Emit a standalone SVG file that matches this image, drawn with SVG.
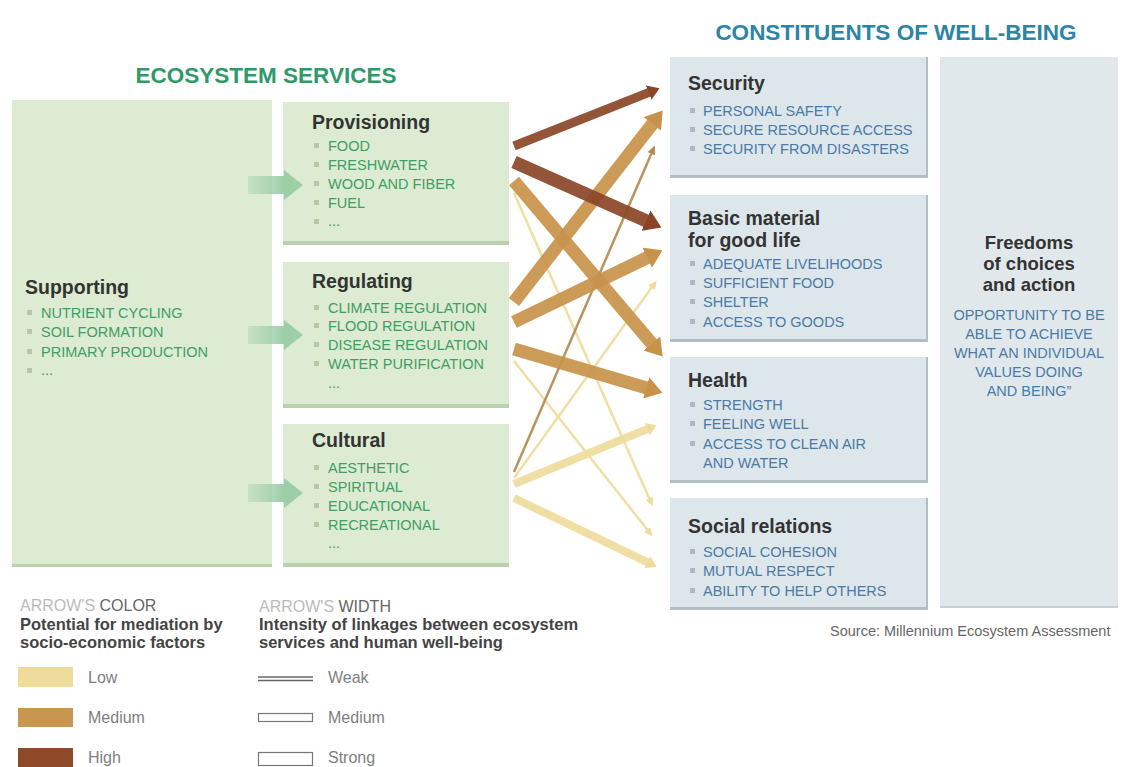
<svg xmlns="http://www.w3.org/2000/svg" width="1123" height="767" viewBox="0 0 1123 767">
<style>
text{font-family:"Liberation Sans",Arial,sans-serif}
.title{font-size:22.5px;font-weight:bold}
.h{font-size:19.5px;font-weight:bold;fill:#333}
.fh{font-size:18.5px;font-weight:bold;fill:#333}
.gi{font-size:14.5px;fill:#3f9e63}
.bi{font-size:14.5px;fill:#4a7aa6}
.gb{fill:#b5c8a8}
.bb{fill:#aebac3}
.gbox{fill:#dcebd2}
.gsh{fill:#b9d2ad}
.bbox{fill:#dde6ea}
.bsh{fill:#b2bec5}
.lg{font-size:16px;fill:#bbb}
.lgd{font-size:16px;fill:#666}
.lgb{font-size:16.5px;font-weight:bold;fill:#444}
.lgl{font-size:16px;fill:#808080}
.hi{stroke:#8a4526}
.me{stroke:#c8924a}
.lo{stroke:#efdc9c}
.mt{stroke:#b48a52}
.ar{fill:none;stroke-opacity:0.92}
</style>
<defs>
<marker id="mHi" markerUnits="strokeWidth" viewBox="0 0 13 17" markerWidth="1.3" markerHeight="1.7" refX="0.5" refY="8.5" orient="auto"><path d="M0,0 L13,8.5 L0,17 z" fill="#8a4526"/></marker>
<marker id="mMe" markerUnits="strokeWidth" viewBox="0 0 13 17" markerWidth="1.3" markerHeight="1.7" refX="0.5" refY="8.5" orient="auto"><path d="M0,0 L13,8.5 L0,17 z" fill="#c8924a"/></marker>
<marker id="mLo" markerUnits="strokeWidth" viewBox="0 0 13 17" markerWidth="1.3" markerHeight="1.7" refX="0.5" refY="8.5" orient="auto"><path d="M0,0 L13,8.5 L0,17 z" fill="#efdc9c"/></marker>
<marker id="tLo" markerUnits="userSpaceOnUse" viewBox="0 0 9 8" markerWidth="9" markerHeight="8" refX="0.5" refY="4" orient="auto"><path d="M0,0 L9,4 L0,8 z" fill="#efdc9c"/></marker>
<marker id="tMt" markerUnits="userSpaceOnUse" viewBox="0 0 9 8" markerWidth="9" markerHeight="8" refX="0.5" refY="4" orient="auto"><path d="M0,0 L9,4 L0,8 z" fill="#b48a52"/></marker>
<linearGradient id="ga" x1="0" y1="0" x2="1" y2="0"><stop offset="0" stop-color="#9fcfaa" stop-opacity="0.35"/><stop offset="0.6" stop-color="#96cba2" stop-opacity="0.9"/><stop offset="1" stop-color="#96cba2" stop-opacity="0.9"/></linearGradient>
</defs>
<rect width="1123" height="767" fill="#fff"/>

<text class="title" x="266" y="83" text-anchor="middle" fill="#2f9a68">ECOSYSTEM SERVICES</text>
<text class="title" x="896" y="40" text-anchor="middle" fill="#2c84a8">CONSTITUENTS OF WELL-BEING</text>

<g id="supporting">
<rect class="gbox" x="12" y="100" width="260" height="467"/>
<rect class="gsh" x="12" y="564" width="260" height="3"/>
<text class="h" x="25" y="294">Supporting</text>
<rect class="gb" x="27" y="310" width="5" height="5"/><text class="gi" x="41" y="318">NUTRIENT CYCLING</text>
<rect class="gb" x="27" y="329" width="5" height="5"/><text class="gi" x="41" y="337">SOIL FORMATION</text>
<rect class="gb" x="27" y="349" width="5" height="5"/><text class="gi" x="41" y="357">PRIMARY PRODUCTION</text>
<rect class="gb" x="27" y="368" width="5" height="5"/><text class="gi" x="41" y="375" font-size="10">...</text>
</g>

<g id="provisioning">
<rect class="gbox" x="283" y="102" width="226" height="143"/>
<rect class="gsh" x="283" y="241" width="226" height="4"/>
<text class="h" x="312" y="129">Provisioning</text>
<rect class="gb" x="314" y="143" width="5" height="5"/><text class="gi" x="328" y="151">FOOD</text>
<rect class="gb" x="314" y="162" width="5" height="5"/><text class="gi" x="328" y="170">FRESHWATER</text>
<rect class="gb" x="314" y="181" width="5" height="5"/><text class="gi" x="328" y="189">WOOD AND FIBER</text>
<rect class="gb" x="314" y="200" width="5" height="5"/><text class="gi" x="328" y="208">FUEL</text>
<rect class="gb" x="314" y="219" width="5" height="5"/><text class="gi" x="328" y="226" font-size="10">...</text>
</g>

<g id="regulating">
<rect class="gbox" x="283" y="262" width="226" height="146"/>
<rect class="gsh" x="283" y="404" width="226" height="4"/>
<text class="h" x="312" y="288">Regulating</text>
<rect class="gb" x="314" y="305" width="5" height="5"/><text class="gi" x="328" y="313">CLIMATE REGULATION</text>
<rect class="gb" x="314" y="323" width="5" height="5"/><text class="gi" x="328" y="331">FLOOD REGULATION</text>
<rect class="gb" x="314" y="342" width="5" height="5"/><text class="gi" x="328" y="350">DISEASE REGULATION</text>
<rect class="gb" x="314" y="361" width="5" height="5"/><text class="gi" x="328" y="369">WATER PURIFICATION</text>
<text class="gi" x="328" y="388" font-size="10">...</text>
</g>

<g id="cultural">
<rect class="gbox" x="283" y="424" width="226" height="143"/>
<rect class="gsh" x="283" y="563" width="226" height="4"/>
<text class="h" x="312" y="447">Cultural</text>
<rect class="gb" x="314" y="465" width="5" height="5"/><text class="gi" x="328" y="473">AESTHETIC</text>
<rect class="gb" x="314" y="484" width="5" height="5"/><text class="gi" x="328" y="492">SPIRITUAL</text>
<rect class="gb" x="314" y="503" width="5" height="5"/><text class="gi" x="328" y="511">EDUCATIONAL</text>
<rect class="gb" x="314" y="522" width="5" height="5"/><text class="gi" x="328" y="530">RECREATIONAL</text>
<text class="gi" x="328" y="548" font-size="10">...</text>
</g>

<g id="security">
<rect class="bbox" x="670" y="57" width="258" height="121"/>
<rect class="bsh" x="670" y="175" width="258" height="3"/>
<rect class="bsh" x="926" y="57" width="2" height="121"/>
<text class="h" x="688" y="90">Security</text>
<rect class="bb" x="690" y="108" width="5" height="5"/><text class="bi" x="703" y="116">PERSONAL SAFETY</text>
<rect class="bb" x="690" y="127" width="5" height="5"/><text class="bi" x="703" y="135">SECURE RESOURCE ACCESS</text>
<rect class="bb" x="690" y="146" width="5" height="5"/><text class="bi" x="703" y="154">SECURITY FROM DISASTERS</text>
</g>

<g id="basic-material">
<rect class="bbox" x="670" y="195" width="258" height="147"/>
<rect class="bsh" x="670" y="339" width="258" height="3"/>
<rect class="bsh" x="926" y="195" width="2" height="147"/>
<text class="h" x="688" y="225">Basic material</text>
<text class="h" x="688" y="247">for good life</text>
<rect class="bb" x="690" y="261" width="5" height="5"/><text class="bi" x="703" y="269">ADEQUATE LIVELIHOODS</text>
<rect class="bb" x="690" y="280" width="5" height="5"/><text class="bi" x="703" y="288">SUFFICIENT FOOD</text>
<rect class="bb" x="690" y="299" width="5" height="5"/><text class="bi" x="703" y="307">SHELTER</text>
<rect class="bb" x="690" y="319" width="5" height="5"/><text class="bi" x="703" y="327">ACCESS TO GOODS</text>
</g>

<g id="health">
<rect class="bbox" x="670" y="357" width="258" height="126"/>
<rect class="bsh" x="670" y="480" width="258" height="3"/>
<rect class="bsh" x="926" y="357" width="2" height="126"/>
<text class="h" x="688" y="387">Health</text>
<rect class="bb" x="690" y="402" width="5" height="5"/><text class="bi" x="703" y="410">STRENGTH</text>
<rect class="bb" x="690" y="421" width="5" height="5"/><text class="bi" x="703" y="429">FEELING WELL</text>
<rect class="bb" x="690" y="441" width="5" height="5"/><text class="bi" x="703" y="449">ACCESS TO CLEAN AIR</text>
<text class="bi" x="703" y="468">AND WATER</text>
</g>

<g id="social-relations">
<rect class="bbox" x="670" y="498" width="258" height="112"/>
<rect class="bsh" x="670" y="607" width="258" height="3"/>
<rect class="bsh" x="926" y="498" width="2" height="112"/>
<text class="h" x="688" y="533">Social relations</text>
<rect class="bb" x="690" y="549" width="5" height="5"/><text class="bi" x="703" y="557">SOCIAL COHESION</text>
<rect class="bb" x="690" y="568" width="5" height="5"/><text class="bi" x="703" y="576">MUTUAL RESPECT</text>
<rect class="bb" x="690" y="588" width="5" height="5"/><text class="bi" x="703" y="596">ABILITY TO HELP OTHERS</text>
</g>

<g id="freedoms">
<rect x="940" y="57" width="178" height="551" fill="#e0e8ec"/>
<rect class="bsh" x="940" y="606" width="178" height="2" opacity="0.6"/>
<g text-anchor="middle">
<text class="fh" x="1029" y="249">Freedoms</text>
<text class="fh" x="1029" y="270">of choices</text>
<text class="fh" x="1029" y="291">and action</text>
<text class="bi" x="1029" y="320">OPPORTUNITY TO BE</text>
<text class="bi" x="1029" y="339">ABLE TO ACHIEVE</text>
<text class="bi" x="1029" y="358">WHAT AN INDIVIDUAL</text>
<text class="bi" x="1029" y="377">VALUES DOING</text>
<text class="bi" x="1029" y="396">AND BEING”</text>
</g>
</g>

<g id="connectors">
<g id="green-arrows" fill="url(#ga)">
<polygon points="248,176 284,176 284,170 303,185 284,200 284,194 248,194"/>
<polygon points="248,326 284,326 284,320 303,335 284,350 284,344 248,344"/>
<polygon points="248,484 284,484 284,478 303,493 284,508 284,502 248,502"/>
</g>
<g class="ar">
<line class="lo" x1="514" y1="193" x2="649.4" y2="498.7" stroke-width="2.5" marker-end="url(#tLo)"/>
<line class="lo" x1="514" y1="361" x2="647.5" y2="529.9" stroke-width="2.5" marker-end="url(#tLo)"/>
<line class="lo" x1="514" y1="478" x2="651.8" y2="287.3" stroke-width="2.5" marker-end="url(#tLo)"/>
<line class="mt" x1="514" y1="472" x2="651.5" y2="153.3" stroke-width="2.5" marker-end="url(#tMt)"/>
<line class="lo" x1="514" y1="484" x2="647.4" y2="429" stroke-width="8" marker-end="url(#mLo)"/>
<line class="lo" x1="514" y1="498" x2="647.7" y2="562.4" stroke-width="8" marker-end="url(#mLo)"/>
<line class="me" x1="514" y1="302" x2="652.7" y2="123.4" stroke-width="13" marker-end="url(#mMe)"/>
<line class="me" x1="514" y1="322" x2="647.8" y2="257.4" stroke-width="13" marker-end="url(#mMe)"/>
<line class="me" x1="514" y1="349" x2="646.8" y2="388.1" stroke-width="13" marker-end="url(#mMe)"/>
<line class="me" x1="514" y1="181" x2="652.2" y2="344" stroke-width="13" marker-end="url(#mMe)"/>
<line class="hi" x1="514" y1="146" x2="649.1" y2="92.4" stroke-width="9" marker-end="url(#mHi)"/>
<line class="hi" x1="514" y1="162" x2="646.6" y2="221" stroke-width="13" marker-end="url(#mHi)"/>
</g>
</g>

<text x="830" y="636" font-size="14.5px" fill="#666">Source: Millennium Ecosystem Assessment</text>

<g id="legend-color">
<text x="20" y="611"><tspan class="lg">ARROW'S </tspan><tspan class="lgd">COLOR</tspan></text>
<text class="lgb" x="20" y="630">Potential for mediation by</text>
<text class="lgb" x="20" y="648">socio-economic factors</text>
<rect x="18" y="667" width="55" height="20" fill="#efdc9c"/>
<text class="lgl" x="88" y="683">Low</text>
<rect x="18" y="708" width="55" height="19" fill="#c8964f"/>
<text class="lgl" x="88" y="723">Medium</text>
<rect x="18" y="748" width="55" height="19" fill="#8e4a28"/>
<text class="lgl" x="88" y="763">High</text>
</g>

<g id="legend-width">
<text x="259" y="612"><tspan class="lg">ARROW'S </tspan><tspan class="lgd">WIDTH</tspan></text>
<text class="lgb" x="259" y="630">Intensity of linkages between ecosystem</text>
<text class="lgb" x="259" y="648">services and human well-being</text>
<line x1="258" y1="677" x2="313" y2="677" stroke="#666" stroke-width="1.6"/>
<line x1="258" y1="680.5" x2="313" y2="680.5" stroke="#666" stroke-width="1.6"/>
<text class="lgl" x="328" y="683">Weak</text>
<rect x="258.5" y="713.5" width="54" height="8" fill="#fff" stroke="#777" stroke-width="1.2"/>
<text class="lgl" x="328" y="723">Medium</text>
<rect x="258.5" y="752.5" width="54" height="13" fill="#fff" stroke="#777" stroke-width="1.2"/>
<text class="lgl" x="328" y="763">Strong</text>
</g>
</svg>
